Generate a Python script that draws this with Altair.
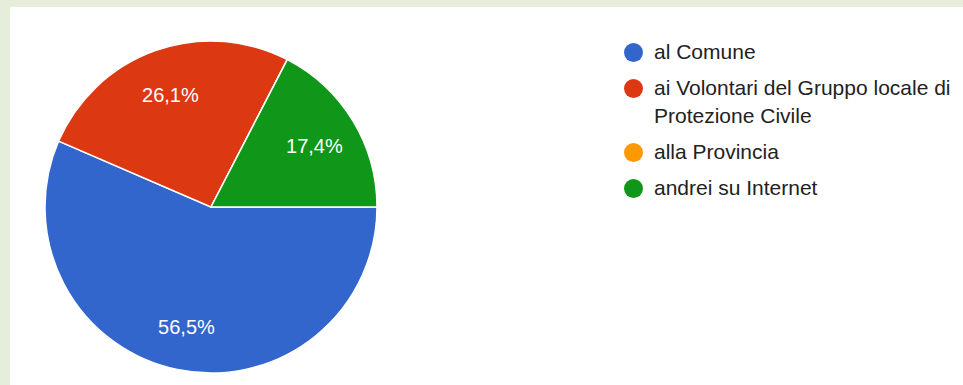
import math
import altair as alt
import pandas as pd

categories = ["al Comune", "ai Volontari del Gruppo locale di Protezione Civile", "alla Provincia", "andrei su Internet"]
percent = [56.5, 26.1, 0.0, 17.4]
colors = ["#3366cc", "#dc3912", "#ff9900", "#109618"]

df = pd.DataFrame({"risposta": categories, "percentuale": percent, "ordine": list(range(len(categories)))})

theta_scale = alt.Scale(range=[math.pi / 2, math.pi / 2 + 2 * math.pi])
color_scale = alt.Scale(domain=categories, range=colors)

base = alt.Chart(df).encode(
    theta=alt.Theta("percentuale:Q", stack=True, scale=theta_scale),
    order=alt.Order("ordine:Q"),
)

pie = base.mark_arc(radius=166, stroke="white", strokeWidth=1.5).encode(
    x=alt.value(201),
    y=alt.value(200),
    color=alt.Color(
        "risposta:N",
        scale=color_scale,
        sort=categories,
        legend=alt.Legend(
            title=None,
            orient="none",
            legendX=613,
            legendY=35,
            symbolType="circle",
            symbolSize=361,
            symbolStrokeWidth=0,
            labelFont="Liberation Sans",
            labelFontSize=21,
            labelColor="#222222",
            labelLimit=500,
            labelOffset=10,
            rowPadding=14,
            padding=0,
            labelExpr="datum.label == 'ai Volontari del Gruppo locale di Protezione Civile' ? ['ai Volontari del Gruppo locale di', 'Protezione Civile'] : datum.label",
        ),
    ),
)

labels = base.transform_calculate(
    etichetta="replace(format(datum.percentuale, '.1f'), '.', ',') + '%'"
).mark_text(
    radius=121, dy=3, font="Liberation Sans", fontSize=20, color="white"
).encode(
    x=alt.value(201),
    y=alt.value(200),
    text=alt.Text("etichetta:N"),
    opacity=alt.condition("datum.percentuale > 0", alt.value(1), alt.value(0)),
)

chart = alt.layer(pie, labels).properties(
    width=953,
    height=378,
    padding={"left": 10, "top": 7, "right": 0, "bottom": 0},
    autosize=alt.AutoSizeParams(type="none"),
    background="#e6eedb",
).configure(
    style={"guide-label": {"lineHeight": 28}},
    view=alt.ViewConfig(fill="white", stroke=None),
)

chart.save("out.html", embed_options={"renderer": "svg", "actions": False})
